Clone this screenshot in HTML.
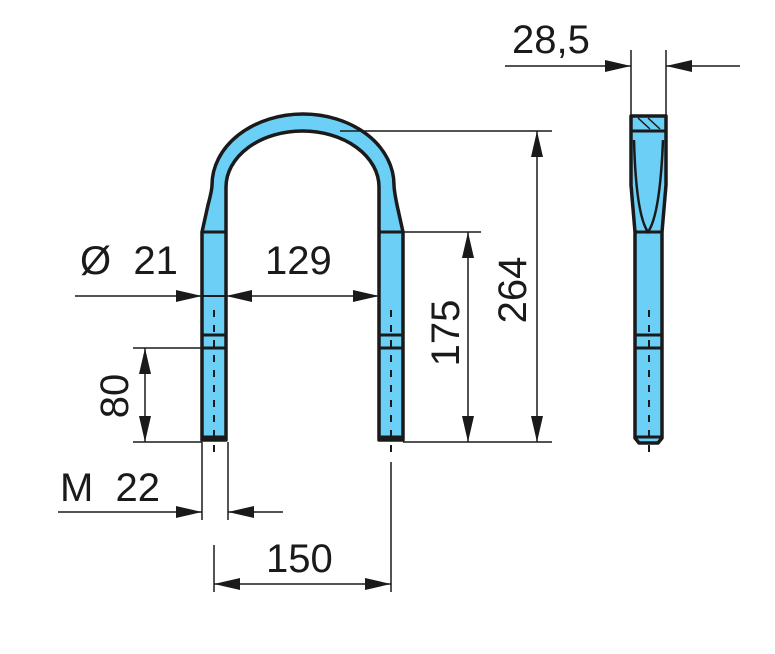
<!DOCTYPE html>
<html><head><meta charset="utf-8"><style>html,body{margin:0;padding:0;background:#fff}svg{display:block}</style></head>
<body>
<svg width="775" height="654" viewBox="0 0 775 654" xmlns="http://www.w3.org/2000/svg" font-family="Liberation Sans, sans-serif" font-size="40" fill="#1a1a1a">
<defs>
<marker id="a" viewBox="0 0 26 12" refX="26" refY="6" markerWidth="26" markerHeight="12" markerUnits="userSpaceOnUse" orient="auto-start-reverse"><path d="M0,0 L26,6 L0,12 z" fill="#1a1a1a"/></marker>
</defs>
<g stroke="#1a1a1a" fill="#6ccff6" stroke-width="3.5" stroke-linejoin="round">
<path d="M202,440 L202,232 L208,205 Q212,190 212,185 A91,71 0 0 1 394,185 Q394,190 397,205 L403,232 L403,440 L379,440 L379,187 A76.5,56 0 0 0 226,187 L226,440 Z"/>
<path d="M631,116 L666,116 L666,185 L662,232 L662,438 L658,443 L639,443 L635,438 L635,232 L631,185 Z"/>
</g>
<g stroke="#1a1a1a" stroke-width="3" fill="none">
<line x1="202" y1="232" x2="226" y2="232"/><line x1="379" y1="232" x2="403" y2="232"/>
<line x1="202" y1="296" x2="226" y2="296" stroke-width="2"/>
<line x1="202" y1="335" x2="226" y2="335"/><line x1="202" y1="348" x2="226" y2="348"/>
<line x1="379" y1="335" x2="403" y2="335"/><line x1="379" y1="348" x2="403" y2="348"/>
<line x1="202" y1="437" x2="226" y2="437"/><line x1="379" y1="437" x2="403" y2="437"/>
<line x1="635" y1="335" x2="662" y2="335"/><line x1="635" y1="348" x2="662" y2="348"/>
<line x1="631" y1="131" x2="666" y2="131"/>
<line x1="635" y1="437" x2="662" y2="437"/>
<path d="M634,140 Q636,215 648,232 Q660,215 663,140" stroke-width="2.5"/>
<line x1="635" y1="232" x2="662" y2="232"/>
</g>
<g stroke="#1a1a1a" stroke-width="1.5">
<line x1="638" y1="118" x2="650" y2="129"/><line x1="648" y1="118" x2="660" y2="129"/>
</g>
<g stroke="#1a1a1a" stroke-width="2" stroke-dasharray="7,8">
<line x1="214" y1="310" x2="214" y2="460"/>
<line x1="391" y1="310" x2="391" y2="460"/>
<line x1="649" y1="310" x2="649" y2="453"/>
</g>
<g stroke="#1a1a1a" stroke-width="1.5" fill="none">
<line x1="631" y1="50" x2="631" y2="115"/><line x1="666" y1="50" x2="666" y2="115"/>
<line x1="505" y1="66" x2="631" y2="66" marker-end="url(#a)"/>
<line x1="740" y1="66" x2="666" y2="66" marker-end="url(#a)"/>
<line x1="340" y1="131" x2="552" y2="131"/>
<line x1="403" y1="232" x2="481" y2="232"/>
<line x1="403" y1="442" x2="552" y2="442"/>
<line x1="537" y1="131" x2="537" y2="442" marker-start="url(#a)" marker-end="url(#a)"/>
<line x1="468" y1="232" x2="468" y2="442" marker-start="url(#a)" marker-end="url(#a)"/>
<line x1="75" y1="296" x2="202" y2="296" marker-end="url(#a)"/>
<line x1="226" y1="296" x2="379" y2="296" marker-start="url(#a)" marker-end="url(#a)"/>
<line x1="133" y1="348" x2="202" y2="348"/><line x1="133" y1="442" x2="202" y2="442"/>
<line x1="145" y1="348" x2="145" y2="442" marker-start="url(#a)" marker-end="url(#a)"/>
<line x1="202" y1="442" x2="202" y2="520"/><line x1="228" y1="442" x2="228" y2="520"/>
<line x1="58" y1="512" x2="202" y2="512" marker-end="url(#a)"/>
<line x1="283" y1="512" x2="228" y2="512" marker-end="url(#a)"/>
<line x1="214" y1="545" x2="214" y2="592"/><line x1="391" y1="462" x2="391" y2="592"/>
<line x1="214" y1="584" x2="391" y2="584" marker-start="url(#a)" marker-end="url(#a)"/>
</g>
<g stroke="none" fill="#1a1a1a">
<text x="512" y="53">28,5</text>
<text x="80" y="274" xml:space="preserve">Ø  21</text>
<text x="265" y="274">129</text>
<text x="60" y="501" xml:space="preserve">M  22</text>
<text x="266" y="572">150</text>
<text transform="translate(526,290) rotate(-90)" text-anchor="middle">264</text>
<text transform="translate(459,333) rotate(-90)" text-anchor="middle">175</text>
<text transform="translate(128,396) rotate(-90)" text-anchor="middle">80</text>
</g>
</svg>
</body></html>
